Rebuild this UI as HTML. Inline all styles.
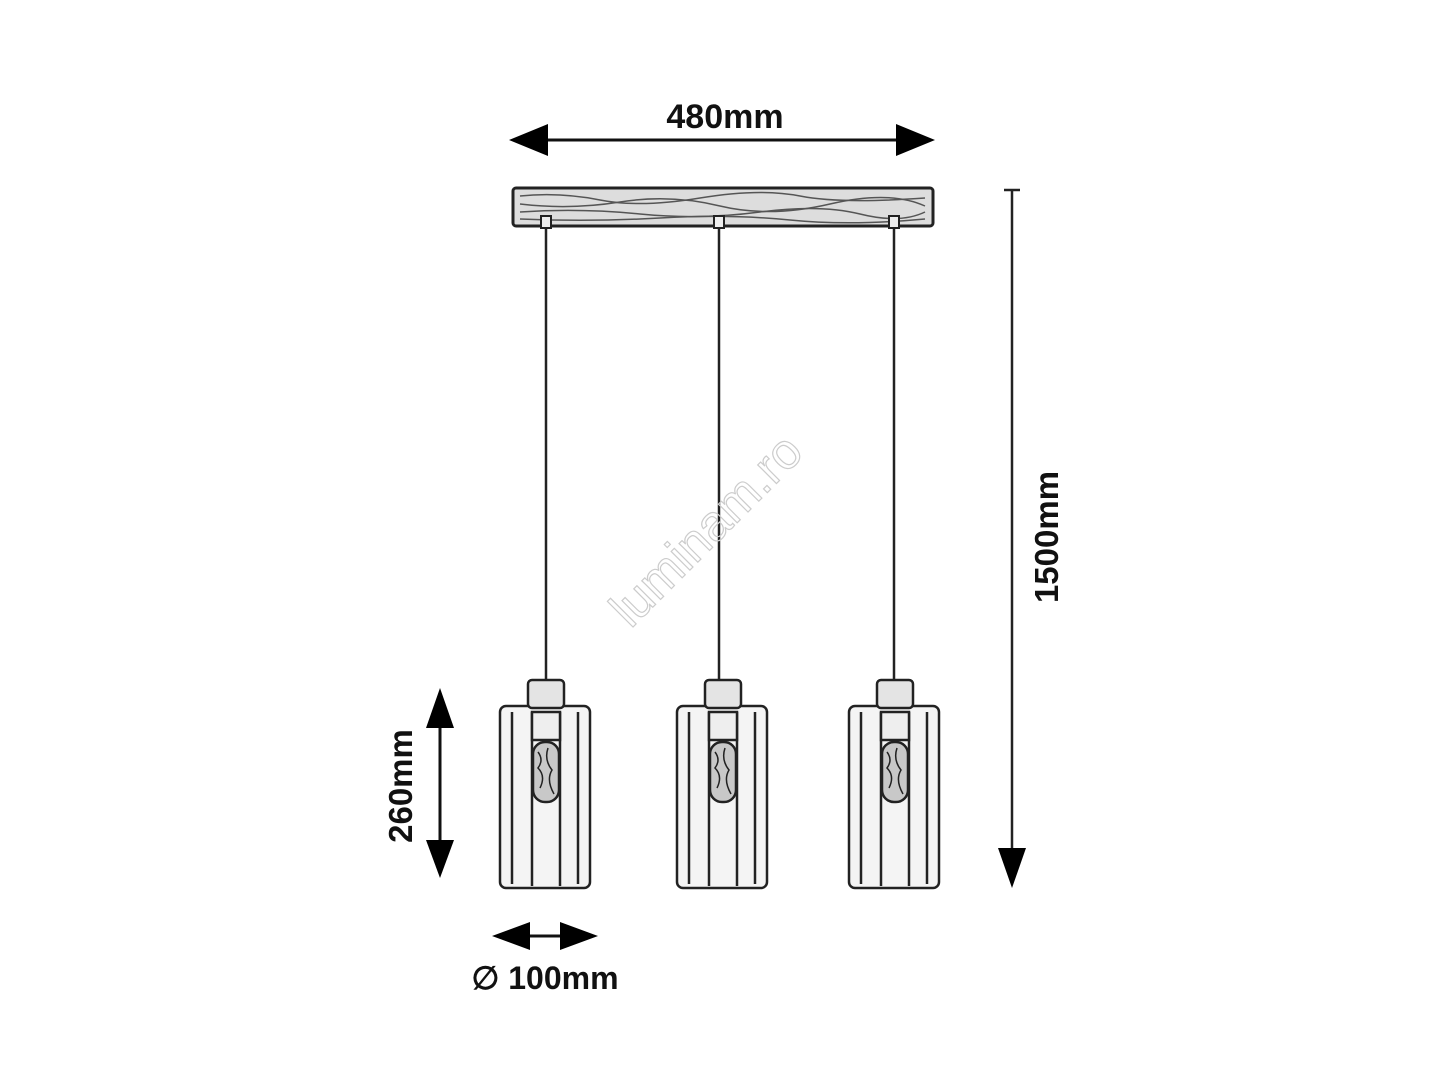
<!DOCTYPE html>
<html><head><meta charset="utf-8"><style>html,body{margin:0;padding:0;background:#fff}svg{display:block}</style></head>
<body>
<svg width="1440" height="1080" viewBox="0 0 1440 1080" xmlns="http://www.w3.org/2000/svg" font-family="Liberation Sans, sans-serif">
<rect width="1440" height="1080" fill="#fff"/>
<line x1="540" y1="140" x2="905" y2="140" stroke="#111" stroke-width="3"/>
<polygon points="509,140 548,124 548,156" fill="#000"/>
<polygon points="935,140 896,124 896,156" fill="#000"/>
<text x="725" y="128" font-size="34" font-weight="bold" text-anchor="middle" fill="#111">480mm</text>
<rect x="513" y="188" width="420" height="38" rx="3" fill="#ddd" stroke="#222" stroke-width="3"/>
<g stroke="#555" stroke-width="1.5" fill="none">
<path d="M520 196 Q560 192 600 200 T700 198 T800 196 T925 198"/>
<path d="M520 204 Q570 210 620 202 T720 206 T830 204 T925 206"/>
<path d="M520 212 Q580 208 640 214 T760 212 T860 214 T925 212"/>
<path d="M520 219 Q590 222 660 218 T790 220 T925 219"/>
</g>
<g stroke="#222" stroke-width="2.5">
<line x1="546" y1="222" x2="546" y2="680"/>
<line x1="719" y1="222" x2="719" y2="680"/>
<line x1="894" y1="222" x2="894" y2="680"/>
</g>
<g fill="#eee" stroke="#222" stroke-width="2">
<rect x="541" y="216" width="10" height="12"/><rect x="714" y="216" width="10" height="12"/><rect x="889" y="216" width="10" height="12"/>
</g>
<g id="l1" fill="none" stroke="#222" stroke-width="2.5">
<rect x="500" y="706" width="90" height="182" rx="6" fill="#f4f4f4"/>
<line x1="512" y1="712" x2="512" y2="884"/><line x1="578" y1="712" x2="578" y2="884"/>
<line x1="532" y1="712" x2="532" y2="886"/><line x1="560" y1="712" x2="560" y2="886"/>
<rect x="528" y="680" width="36" height="28" rx="4" fill="#e4e4e4"/>
<rect x="532" y="712" width="28" height="28" fill="#eee"/>
<rect x="533" y="742" width="26" height="60" rx="12" fill="#c8c8c8"/>
<path d="M538 752 q6 8 0 16 q8 8 2 20 M548 748 q-4 12 4 22 q-6 10 2 24" stroke-width="1.5"/>
</g>
<use href="#l1" x="177"/>
<use href="#l1" x="349"/>
<line x1="1012" y1="190" x2="1012" y2="855" stroke="#222" stroke-width="2.5"/>
<line x1="1004" y1="190" x2="1020" y2="190" stroke="#222" stroke-width="2.5"/>
<polygon points="1012,888 998,848 1026,848" fill="#000"/>
<text transform="translate(1058,537) rotate(-90)" font-size="33" font-weight="bold" text-anchor="middle" fill="#111">1500mm</text>
<line x1="440" y1="720" x2="440" y2="848" stroke="#111" stroke-width="3"/>
<polygon points="440,688 426,728 454,728" fill="#000"/>
<polygon points="440,878 426,840 454,840" fill="#000"/>
<text transform="translate(412,786) rotate(-90)" font-size="33" font-weight="bold" text-anchor="middle" fill="#111">260mm</text>
<line x1="520" y1="936" x2="570" y2="936" stroke="#111" stroke-width="3"/>
<polygon points="492,936 530,922 530,950" fill="#000"/>
<polygon points="598,936 560,922 560,950" fill="#000"/>
<text x="545" y="989" font-size="32" font-weight="bold" text-anchor="middle" fill="#111">∅ 100mm</text>
<text transform="translate(718,542) rotate(-45)" font-size="50" text-anchor="middle" fill="none" stroke="#ccc" stroke-width="1.2">luminam.ro</text>
</svg>
</body></html>
